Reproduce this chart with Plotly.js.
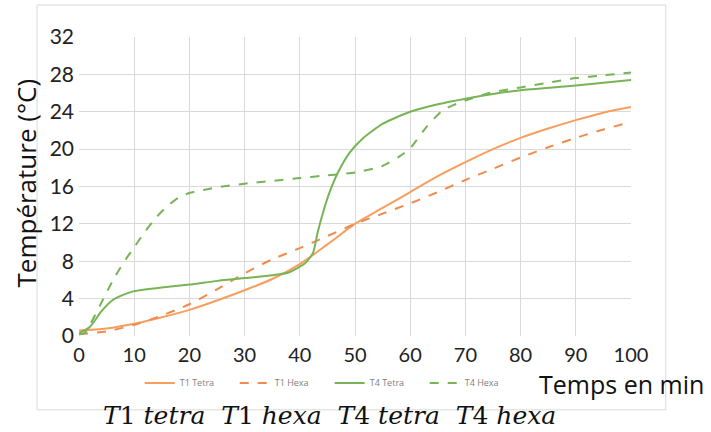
<!DOCTYPE html>
<html>
<head>
<meta charset="utf-8">
<script src="https://cdn.plot.ly/plotly-3.0.1.min.js"></script>
<style>html,body{margin:0;padding:0;background:#fff;}#chart{width:711px;height:432px;}</style>
</head>
<body>
<div id="chart"></div>
<script>
const seriesNames = ["T1 Tetra", "T1 Hexa", "T4 Tetra", "T4 Hexa"];

const t1TetraTime = [0, 5, 10, 15, 20, 25, 30, 35, 40, 45, 50, 55, 60, 65, 70, 75, 80, 85, 90, 95, 100];
const t1TetraTemp = [0.6, 0.8, 1.3, 2.0, 2.8, 3.8, 4.9, 6.1, 7.7, 9.8, 12.0, 13.7, 15.4, 17.1, 18.6, 20.0, 21.2, 22.2, 23.1, 23.9, 24.5];

const t1HexaTime = [0, 5, 10, 15, 20, 25, 30, 35, 40, 45, 50, 55, 60, 65, 70, 75, 80, 85, 90, 95, 100];
const t1HexaTemp = [0.2, 0.5, 1.2, 2.2, 3.4, 5.0, 6.7, 8.2, 9.4, 10.7, 12.0, 13.1, 14.2, 15.4, 16.7, 17.9, 19.1, 20.2, 21.2, 22.1, 22.9];

const t4TetraTime = [0, 2, 4, 6, 8, 10, 15, 20, 25, 30, 35, 38, 41, 42.4, 43.2, 44.2, 45.4, 47, 49, 51.5, 55, 60, 65, 70, 75, 80, 90, 100];
const t4TetraTemp = [0.3, 1.0, 2.6, 3.8, 4.4, 4.8, 5.2, 5.5, 5.9, 6.2, 6.5, 6.8, 7.8, 8.9, 11.0, 13.2, 15.4, 17.6, 19.6, 21.2, 22.7, 24.0, 24.8, 25.4, 25.9, 26.3, 26.8, 27.4];

const t4HexaTime = [0, 1, 2, 4, 6, 8, 10, 12, 14, 16, 18, 20, 25, 30, 35, 40, 45, 50, 55, 58, 60, 63, 66, 70, 75, 80, 85, 90, 95, 100];
const t4HexaTemp = [0.2, 0.3, 1.2, 3.5, 5.8, 7.8, 9.5, 11.2, 12.7, 13.9, 14.8, 15.3, 15.9, 16.3, 16.6, 16.9, 17.2, 17.5, 18.2, 19.2, 20.1, 22.4, 24.2, 25.2, 26.1, 26.6, 27.1, 27.6, 27.9, 28.2];

const xTicks = [0, 10, 20, 30, 40, 50, 60, 70, 80, 90, 100];
const yTicks = [0, 4, 8, 12, 16, 20, 24, 28, 32];

const orange = "#F79E5E", orangeD = "#F08B4D", green = "#77B456";

const traces = [
  {x: t1TetraTime, y: t1TetraTemp, name: seriesNames[0], mode: "lines", line: {color: orange, width: 2, shape: "spline", smoothing: 0.8}},
  {x: t1HexaTime, y: t1HexaTemp, name: seriesNames[1], mode: "lines", line: {color: orangeD, width: 2, dash: "dash", shape: "spline", smoothing: 0.8}},
  {x: t4TetraTime, y: t4TetraTemp, name: seriesNames[2], mode: "lines", line: {color: green, width: 2, shape: "spline", smoothing: 0.6}},
  {x: t4HexaTime, y: t4HexaTemp, name: seriesNames[3], mode: "lines", line: {color: green, width: 2, dash: "dash", shape: "spline", smoothing: 0.6}}
];

const layout = {
  width: 711, height: 432,
  margin: {l: 79, r: 80, t: 37, b: 96},
  paper_bgcolor: "#fff", plot_bgcolor: "#fff",
  font: {family: "'Open Sans', Lato, sans-serif", color: "#222"},
  xaxis: {range: [0, 100], tickvals: xTicks, ticktext: xTicks.map(String), showgrid: true, gridcolor: "#D9D9D9", gridwidth: 1,
          zeroline: false, showline: false, ticks: "", tickfont: {size: 20, color: "#222", family: "Lato, sans-serif"}, ticklabelstandoff: 5, fixedrange: true},
  yaxis: {range: [0, 32], tickvals: yTicks, ticktext: yTicks.map(String), showgrid: true, gridcolor: "#D9D9D9", gridwidth: 1,
          zeroline: false, showline: false, ticks: "", tickfont: {size: 21, color: "#222", family: "Lato, sans-serif"}, ticklabelstandoff: 4, fixedrange: true},
  showlegend: true,
  legend: {orientation: "h", x: 0.11, xanchor: "left", y: -0.157, yanchor: "middle", font: {size: 9, color: "#7F7F7F"},
           entrywidth: 50, entrywidthmode: "pixels", itemwidth: 30, bgcolor: "rgba(0,0,0,0)"},
  shapes: [
    {type: "rect", xref: "paper", yref: "paper", x0: -0.076, x1: 1.063, y0: -0.247, y1: 1.107, line: {color: "#D9D9D9", width: 1}, fillcolor: "rgba(0,0,0,0)", layer: "below"}
  ],
  annotations: [
    {text: "Température (°C)", xref: "paper", yref: "paper", x: -0.096, y: 0.51, textangle: -90, showarrow: false,
     font: {size: 26, color: "#111", family: "'Open Sans', sans-serif"}, xanchor: "center", yanchor: "middle"},
    {text: "Temps en min", xref: "paper", yref: "paper", x: 1.135, y: -0.16, showarrow: false, xanchor: "right", yanchor: "middle",
     font: {size: 25, color: "#111", family: "'Open Sans', sans-serif"}},
    {text: "<i>T</i>1 <i>tetra</i>  <i>T</i>1 <i>hexa</i>  <i>T</i>4 <i>tetra</i>  <i>T</i>4 <i>hexa</i>", xref: "paper", yref: "paper",
     x: 0.04, y: -0.265, showarrow: false, xanchor: "left", yanchor: "middle",
     font: {size: 25, color: "#111", family: "'DejaVu Serif', serif"}}
  ]
};

Plotly.newPlot("chart", traces, layout, {displayModeBar: false, staticPlot: true});
</script>
</body>
</html>
